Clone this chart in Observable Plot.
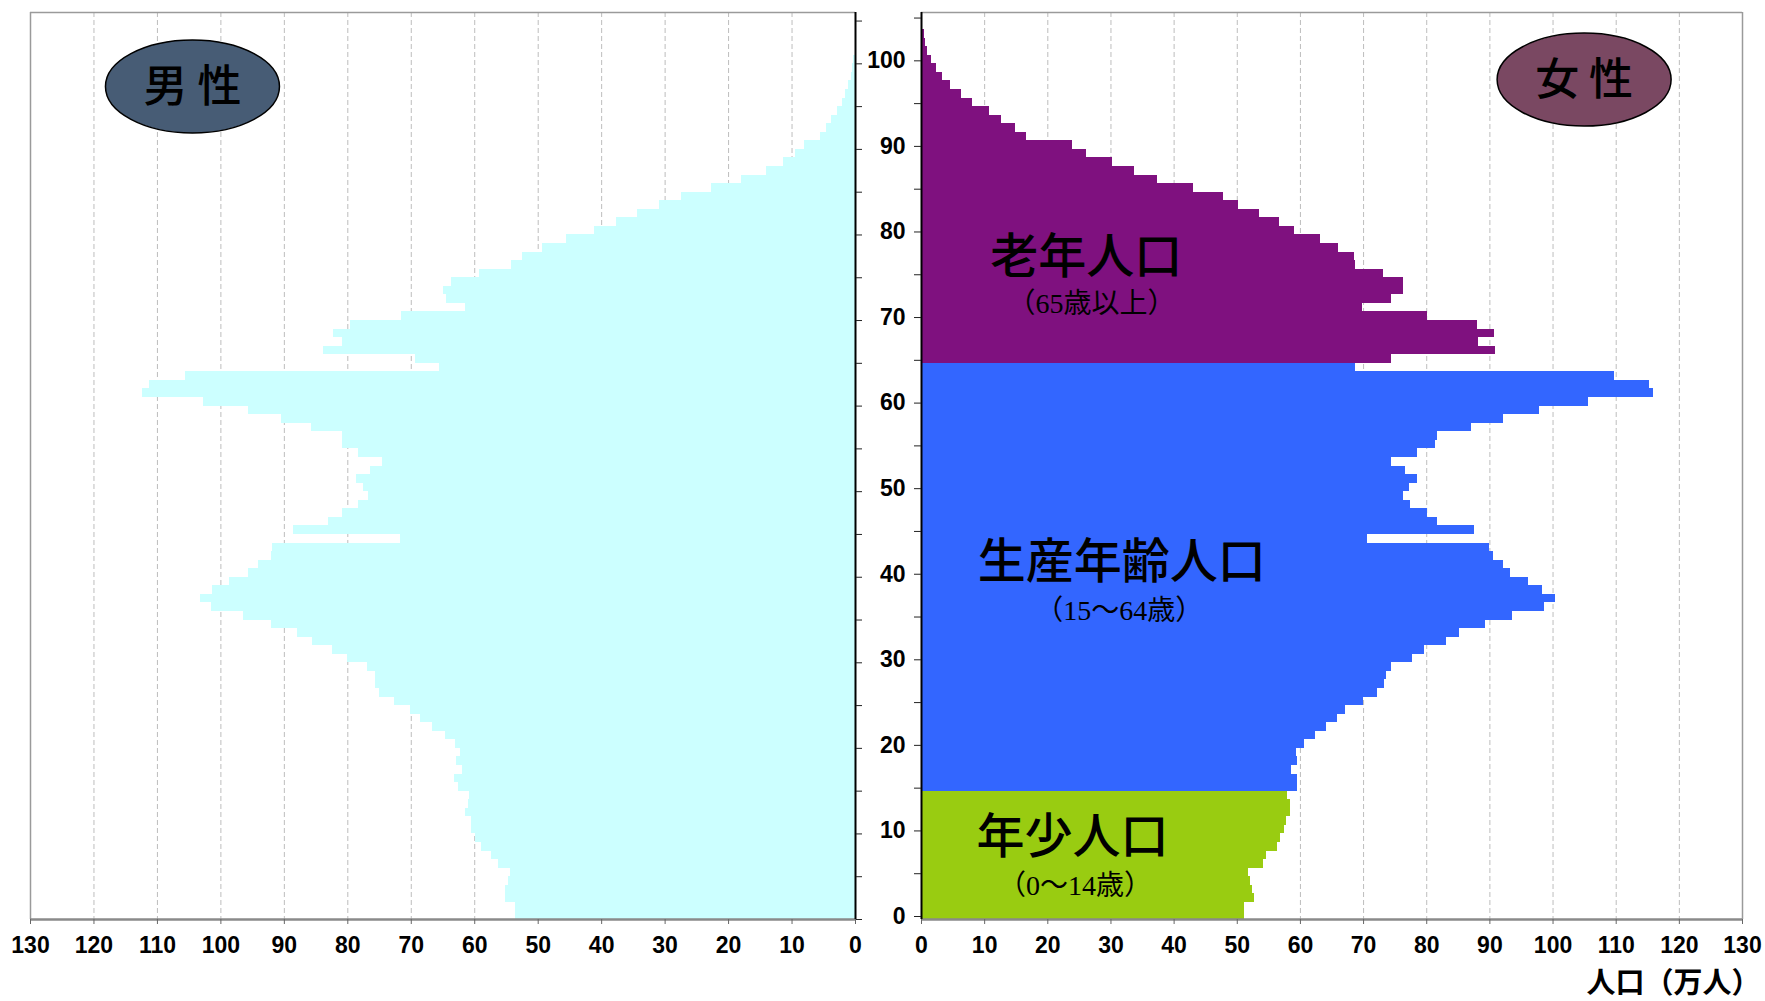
<!DOCTYPE html>
<html><head><meta charset="utf-8">
<script src="https://cdn.jsdelivr.net/npm/d3@7"></script>
<script src="https://cdn.jsdelivr.net/npm/@observablehq/plot@0.6"></script>
<style>
body{margin:0;background:#fff;}
#chart{display:flex;width:1765px;height:1001px;overflow:hidden;}
#chart svg{display:block;}
</style></head><body><div id="chart"></div>
<script>
// Male population by single year of age (index = age), unit: 万人
const maleValues = [
 53.6, 53.6, 55.2, 55.1, 54.7, 54.4, 56.3, 57.4, 59.0, 59.9,
 60.5, 60.5, 61.4, 61.0, 60.9, 62.6, 63.2, 62.0, 62.9, 62.3,
 63.1, 64.6, 66.7, 68.6, 70.1, 72.7, 75.0, 75.7, 75.7, 76.9,
 80.0, 82.4, 85.6, 87.9, 92.1, 96.4, 101.5, 103.2, 101.4, 98.6,
 95.7, 94.1, 92.0, 91.8, 71.7, 88.5, 83.0, 80.8, 78.3, 76.8,
 77.5, 78.6, 76.5, 74.5, 78.3, 80.8, 80.8, 85.7, 90.4, 95.7,
 102.8, 112.3, 111.2, 105.5, 65.5, 69.4, 83.9, 80.8, 82.3, 79.5,
 71.5, 61.4, 64.4, 64.9, 63.6, 59.2, 54.2, 52.4, 49.4, 45.5,
 41.1, 37.6, 34.3, 30.9, 27.4, 22.7, 18.0, 14.0, 11.3, 9.4,
 8.1, 5.5, 4.6, 3.8, 2.8, 2.0, 1.6, 1.1, 0.6, 0.5,
 0.3
];
// Female population by single year of age (index = age), unit: 万人
const femaleValues = [
 51.1, 51.1, 52.8, 52.4, 52.1, 51.8, 54.1, 54.6, 56.3, 56.9,
 57.4, 57.8, 58.5, 58.4, 58.0, 59.5, 59.5, 58.6, 59.5, 59.3,
 60.6, 62.4, 64.1, 65.8, 67.1, 70.0, 72.2, 73.3, 73.7, 74.5,
 77.8, 79.6, 83.1, 85.2, 89.3, 93.6, 98.6, 100.4, 98.4, 96.1,
 93.3, 92.2, 90.5, 90.0, 70.6, 87.5, 81.7, 80.1, 77.4, 76.3,
 77.2, 78.5, 76.7, 74.5, 78.5, 81.4, 81.7, 87.1, 92.2, 97.9,
 105.6, 115.9, 115.3, 109.8, 68.8, 74.5, 90.9, 88.2, 90.7, 88.0,
 80.1, 69.9, 74.5, 76.3, 76.3, 73.2, 68.8, 68.6, 66.1, 63.1,
 59.1, 56.7, 53.5, 50.2, 47.8, 43.1, 37.4, 33.8, 30.3, 26.2,
 23.9, 16.6, 14.9, 12.6, 10.7, 8.0, 6.4, 4.6, 3.4, 2.3,
 1.6, 0.9, 0.7, 0.4, 0.2
];
const groupNames = ["年少人口", "生産年齢人口", "老年人口"];
const groupSubs = ["（0～14歳）", "（15～64歳）", "（65歳以上）"];
const groupStart = [0, 15, 65];
const xTicks = [0, 10, 20, 30, 40, 50, 60, 70, 80, 90, 100, 110, 120, 130];
const yTicks = [0, 5, 10, 15, 20, 25, 30, 35, 40, 45, 50, 55, 60, 65, 70, 75, 80, 85, 90, 95, 100, 105];
const sexLabels = ["男 性", "女 性"];
const axisTitle = "人口（万人）";

const groupOf = a => a >= groupStart[2] ? groupNames[2] : a >= groupStart[1] ? groupNames[1] : groupNames[0];
const male = maleValues.map((v, i) => ({age: i, v}));
const female = femaleValues.map((v, i) => ({age: i, v, group: groupOf(i)}));

const H = 1001, MT = 12, MB = 82;
const tickFont = "'Liberation Sans Narrow', 'Arial Narrow', 'Liberation Sans', Arial, sans-serif";
const cjkFont = "'Noto Sans CJK JP', sans-serif";
const subFont = "'Liberation Serif', 'Noto Sans CJK JP', serif";
const gridOpts = {stroke: "#bdbdbd", strokeOpacity: 1, strokeWidth: 1, strokeDasharray: "5,3"};
const yDomain = [0, 106];
const tickTextOpts = {fontSize: 23, fontWeight: "bold", fontFamily: tickFont};

const left = Plot.plot({
  width: 862, height: H, marginLeft: 30, marginRight: 7, marginTop: MT, marginBottom: MB,
  x: {domain: [130, 0]},
  y: {domain: yDomain},
  style: {background: "white", overflow: "visible", fontFamily: tickFont},
  marks: [
    Plot.gridX(xTicks.filter(d => d > 0 && d < 130), gridOpts),
    Plot.rect(male, {x1: () => 0, x2: "v", y1: "age", y2: d => d.age + 1, fill: "#ccffff", shapeRendering: "crispEdges"}),
    Plot.ruleX([130], {stroke: "#9a9a9a", strokeWidth: 1.5}),
    Plot.ruleY([106], {stroke: "#9a9a9a", strokeWidth: 1.5}),
    Plot.ruleY([0], {stroke: "#8a8a8a", strokeWidth: 2.5}),
    Plot.ruleX([0], {stroke: "#000", strokeWidth: 2}),
    Plot.axisY(yTicks, {anchor: "right", tickSize: 6, tickFormat: () => "", label: null, stroke: "#222"}),
    Plot.axisX(xTicks, {anchor: "bottom", tickSize: 5, tickPadding: 12, label: null, stroke: "#666", ...tickTextOpts})
  ]
});

const right = Plot.plot({
  width: 903, height: H, marginLeft: 59, marginRight: 23, marginTop: MT, marginBottom: MB,
  x: {domain: [0, 130]},
  y: {domain: yDomain},
  color: {domain: groupNames, range: ["#99cc11", "#3366ff", "#7f117f"]},
  style: {background: "white", overflow: "visible", fontFamily: tickFont},
  marks: [
    Plot.gridX(xTicks.filter(d => d > 0 && d < 130), gridOpts),
    Plot.rect(female, {x1: () => 0, x2: "v", y1: "age", y2: d => d.age + 1, fill: "group", shapeRendering: "crispEdges"}),
    Plot.ruleX([130], {stroke: "#9a9a9a", strokeWidth: 1.5}),
    Plot.ruleY([106], {stroke: "#9a9a9a", strokeWidth: 1.5}),
    Plot.ruleY([0], {stroke: "#8a8a8a", strokeWidth: 2.5}),
    Plot.ruleX([0], {stroke: "#000", strokeWidth: 2}),
    Plot.axisY(yTicks, {anchor: "left", tickSize: 7, tickPadding: 9, dy: -3, tickFormat: d => d % 10 === 0 ? String(d) : "", label: null, stroke: "#222", ...tickTextOpts}),
    Plot.axisX(xTicks, {anchor: "bottom", tickSize: 5, tickPadding: 12, label: null, stroke: "#666", ...tickTextOpts}),
    // group labels
    Plot.text([{t: groupNames[2], x: 26.1, y: 77.4}, {t: groupNames[1], x: 31.7, y: 41.7}, {t: groupNames[0], x: 23.9, y: 9.6}],
      {x: "x", y: "y", text: "t", fontSize: 48, fontWeight: 500, fontFamily: cjkFont, fill: "#000"}),
    Plot.text([{t: groupSubs[2], x: 26.9, y: 71.9}, {t: groupSubs[1], x: 31.3, y: 36.0}, {t: groupSubs[0], x: 24.3, y: 3.9}],
      {x: "x", y: "y", text: "t", fontSize: 28, fontFamily: subFont, fill: "#000"}),
    Plot.text([axisTitle], {text: d => d, frameAnchor: "bottom-right", textAnchor: "end", lineAnchor: "bottom", dx: 18, dy: 73, fontSize: 29, fontWeight: "bold", fontFamily: cjkFont, fill: "#000"})
  ]
});

function addBadge(svg, cx, cy, label, fill) {
  const sx = svg.scale("x"), sy = svg.scale("y");
  const px = sx.apply(cx), py = sy.apply(cy);
  const g = d3.select(svg).append("g");
  g.append("ellipse").attr("cx", px).attr("cy", py).attr("rx", 87).attr("ry", 46.5)
    .attr("fill", fill).attr("stroke", "#000").attr("stroke-width", 1.5);
  g.append("text").attr("x", px).attr("y", py).attr("text-anchor", "middle").attr("dy", "0.36em")
    .attr("font-family", cjkFont).attr("font-size", 44).attr("font-weight", 500).attr("fill", "#000")
    .text(label);
}
addBadge(left, 104.4, 97.3, sexLabels[0], "#475c75");
addBadge(right, 105.0, 98.1, sexLabels[1], "#7a4862");

const chart = document.getElementById("chart");
chart.appendChild(left);
chart.appendChild(right);
</script></body></html>
